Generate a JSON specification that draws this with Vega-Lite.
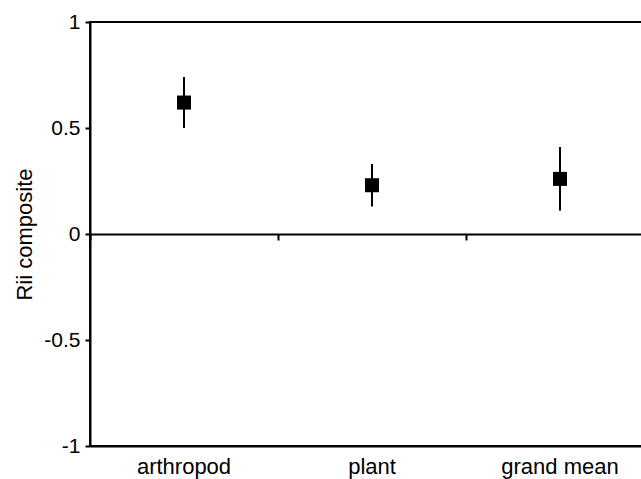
{
  "$schema": "https://vega.github.io/schema/vega-lite/v6.json",
  "width": 564,
  "height": 424,
  "autosize": "none",
  "padding": {"left": 90, "top": 22, "right": 0, "bottom": 33},
  "background": "white",
  "config": {
    "view": {"stroke": "black", "strokeWidth": 2},
    "font": "Liberation Sans",
    "axis": {
      "labelFont": "Liberation Sans",
      "titleFont": "Liberation Sans",
      "labelColor": "black",
      "titleColor": "black",
      "domainColor": "black",
      "tickColor": "black",
      "domainWidth": 2,
      "tickWidth": 2,
      "grid": false
    }
  },
  "data": {
    "values": [
      {"group": "arthropod", "rii": 0.62, "lo": 0.50, "hi": 0.74},
      {"group": "plant", "rii": 0.23, "lo": 0.13, "hi": 0.33},
      {"group": "grand mean", "rii": 0.26, "lo": 0.11, "hi": 0.41}
    ]
  },
  "resolve": {"axis": {"x": "independent"}},
  "layer": [
    {
      "mark": {"type": "rule", "color": "black", "strokeWidth": 2},
      "encoding": {
        "x": {
          "field": "group",
          "type": "nominal",
          "sort": null,
          "scale": {"paddingInner": 0, "paddingOuter": 0},
          "axis": {
            "orient": "bottom",
            "offset": -212,
            "title": null,
            "labels": false,
            "ticks": true,
            "tickSize": 6,
            "bandPosition": 0,
            "domain": true
          }
        },
        "y": {
          "field": "lo",
          "type": "quantitative",
          "scale": {"domain": [-1, 1], "nice": false, "zero": false},
          "axis": {
            "values": [-1, -0.5, 0, 0.5, 1],
            "labelExpr": "datum.value + ''",
            "labelFontSize": 21,
            "tickSize": 5,
            "labelPadding": 5,
            "title": "Rii composite",
            "titleFontSize": 22,
            "titleFontWeight": "normal",
            "titlePadding": 7
          }
        },
        "y2": {"field": "hi"}
      }
    },
    {
      "mark": {"type": "square", "size": 196, "color": "black", "filled": true, "opacity": 1},
      "encoding": {
        "x": {
          "field": "group",
          "type": "nominal",
          "sort": null,
          "axis": {
            "orient": "bottom",
            "title": null,
            "ticks": false,
            "labelAngle": 0,
            "labelFontSize": 22,
            "labelPadding": 10,
            "domain": true
          }
        },
        "y": {"field": "rii", "type": "quantitative"}
      }
    }
  ]
}
